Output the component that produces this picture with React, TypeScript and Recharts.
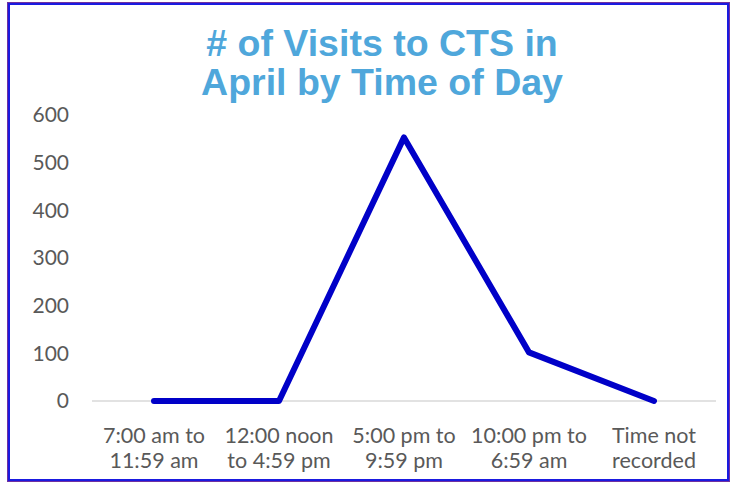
import { CartesianGrid, Line, LineChart, XAxis, YAxis } from "recharts";

const categories = [
  "7:00 am to\n11:59 am",
  "12:00 noon\nto 4:59 pm",
  "5:00 pm to\n9:59 pm",
  "10:00 pm to\n6:59 am",
  "Time not\nrecorded",
];
const visits = [0, 0, 553, 102, 0];
const yTicks = [0, 100, 200, 300, 400, 500, 600];

const data = categories.map((name, i) => ({ name, visits: visits[i] }));

const AXIS_FONT = "Lato, 'Open Sans', sans-serif";
const AXIS_COLOR = "#595959";

// two-line category label, Excel style
function CategoryTick({ x, y, payload }: any) {
  const lines = String(payload.value).split("\n");
  return (
    <text
      x={x}
      y={y}
      textAnchor="middle"
      fill={AXIS_COLOR}
      fontFamily={AXIS_FONT}
      fontSize={21.5}
    >
      {lines.map((line, i) => (
        <tspan key={i} x={x} y={y + 40 + i * 25}>
          {line}
        </tspan>
      ))}
    </text>
  );
}

export default function App() {
  return (
    <div
      style={{
        position: "absolute",
        left: 0,
        top: 0,
        width: 732,
        height: 482,
        background: "#fff",
        overflow: "hidden",
      }}
    >
      <div
        style={{
          position: "absolute",
          left: 7,
          top: 2,
          width: 723,
          height: 480,
          boxSizing: "border-box",
          border: "1.5px solid #7030A0",
        }}
      >
        <div
          style={{
            position: "absolute",
            inset: 0,
            border: "2px solid #1a1ae0",
          }}
        />
      </div>

      <div
        style={{
          position: "absolute",
          left: 0,
          top: 24,
          width: 764,
          textAlign: "center",
          fontFamily: "'Liberation Sans', Arial, sans-serif",
          fontWeight: 700,
          fontSize: 37.5,
          lineHeight: "39px",
          color: "#4FA7DB",
        }}
      >
        # of Visits to CTS in
        <br />
        April by Time of Day
      </div>

      <div style={{ position: "absolute", left: 0, top: 0 }}>
        <LineChart
          width={732}
          height={482}
          data={data}
          margin={{ top: 115, right: 16, bottom: 11, left: 32 }}
        >
          <CartesianGrid
            vertical={false}
            horizontalValues={[0]}
            stroke="#D9D9D9"
            strokeWidth={1.5}
          />
          <XAxis
            dataKey="name"
            interval={0}
            height={70}
            padding={{ left: 62, right: 62 }}
            axisLine={false}
            tickLine={false}
            tickSize={0}
            tick={<CategoryTick />}
          />
          <YAxis
            domain={[0, 600]}
            ticks={yTicks}
            width={60}
            axisLine={false}
            tickLine={false}
            tickSize={0}
            tickMargin={23}
            tick={{ fill: AXIS_COLOR, fontFamily: AXIS_FONT, fontSize: 21 }}
          />
          <Line
            type="linear"
            dataKey="visits"
            stroke="#0000C8"
            strokeWidth={6}
            strokeLinecap="round"
            strokeLinejoin="round"
            dot={false}
            activeDot={false}
            isAnimationActive={false}
          />
        </LineChart>
      </div>
    </div>
  );
}
